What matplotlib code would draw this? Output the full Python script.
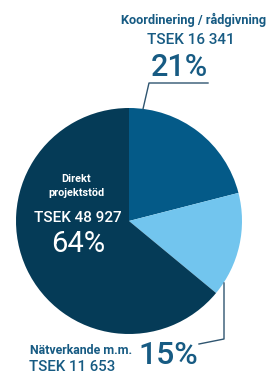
import matplotlib
matplotlib.use('Agg')
import matplotlib.pyplot as plt
import numpy as np

# data
categories = ['Koordinering / rådgivning', 'Nätverkande m.m.', 'Direkt\nprojektstöd']
amounts = ['TSEK 16 341', 'TSEK 11 653', 'TSEK 48 927']
shares = [21, 15, 64]
colors = ['#045a88', '#72c5ee', '#053b57']

W, H = 267, 374
plt.rcParams['font.family'] = ['Roboto', 'DejaVu Sans']
txt = '#175b83'

fig = plt.figure(figsize=(W / 100, H / 100), dpi=100)
ax = fig.add_axes([0, 0, 1, 1])

cx, cy, r = 129, H - 221, 113
ax.pie(shares, colors=colors, startangle=90, counterclock=False,
       center=(cx, cy), radius=r, frame=True,
       wedgeprops=dict(linewidth=0))
ax.set_xlim(0, W)
ax.set_ylim(0, H)
ax.axis('off')

# leader lines
lc = '#2f5570'
ax.plot([143, 149, 208], [H - 109, H - 83, H - 83], color=lc, lw=1)
ax.plot([224, 224, 199], [H - 283, H - 339, H - 344], color=lc, lw=1)

# top label
ax.text(266, H - 20, categories[0], ha='right', va='center', fontsize=9.2,
        fontweight='bold', color=txt)
ax.text(191, H - 40, amounts[0], ha='center', va='center', fontsize=11,
        fontweight='medium', color=txt)
ax.text(179, H - 67, f'{shares[0]}%', ha='center', va='center', fontsize=22,
        fontweight='medium', color=txt)

# bottom label
ax.text(30, H - 351, categories[1], ha='left', va='center', fontsize=8.9,
        fontweight='bold', color=txt)
ax.text(29, H - 367, amounts[1], ha='left', va='center', fontsize=10.8,
        fontweight='medium', color=txt)
ax.text(168, H - 356, f'{shares[1]}%', ha='center', va='center', fontsize=23,
        fontweight='medium', color=txt)

# inner label
ax.text(76, H - 186, categories[2], ha='center', va='center', fontsize=7.8,
        fontweight='bold', color='white', linespacing=1.45)
ax.text(78, H - 218, amounts[2], ha='center', va='center', fontsize=11,
        fontweight='medium', color='white')
ax.text(78, H - 244, f'{shares[2]}%', ha='center', va='center', fontsize=21,
        color='white')

fig.savefig('out.png', dpi=100, facecolor='white')
